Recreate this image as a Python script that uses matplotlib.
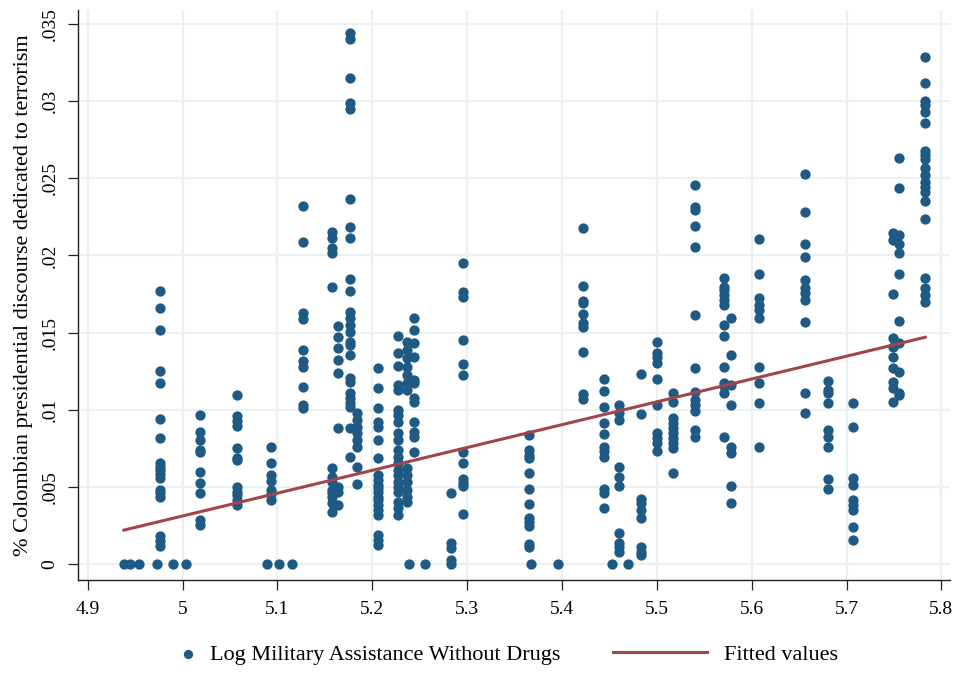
"""
Scatter of terrorism share of Colombian presidential discourse against
log military assistance (without drugs), with a linear fit.
"""

import matplotlib
matplotlib.use("Agg")
import matplotlib.pyplot as plt

# Observations that sit on zero
zero_x = [4.938, 4.945, 4.954, 4.973, 4.990, 5.003, 5.089, 5.102, 5.115,
          5.239, 5.255, 5.283, 5.367, 5.396, 5.453, 5.470]

# Columns of observations: one x value, several y values each
col_x = [4.976, 5.018, 5.057, 5.093, 5.127, 5.157, 5.164, 5.176, 5.184,
         5.206, 5.227, 5.237, 5.244, 5.283, 5.296, 5.365, 5.422, 5.444,
         5.460, 5.483, 5.500, 5.517, 5.540, 5.571, 5.578, 5.608, 5.656,
         5.680, 5.707, 5.749, 5.755, 5.783]
col_y = [
    [0.01771, 0.01659, 0.01516, 0.01251, 0.01173, 0.0094, 0.00816, 0.00654, 0.00628,
     0.00609, 0.00583, 0.00557, 0.0048, 0.0046, 0.00434, 0.00181, 0.00149, 0.00117],
    [0.00966, 0.00855, 0.00804, 0.00739, 0.00726, 0.00596, 0.00525, 0.0046, 0.00285, 0.00253],
    [0.01095, 0.00959, 0.00927, 0.00894, 0.00752, 0.00687, 0.00674, 0.00499, 0.00467,
     0.00447, 0.00415, 0.00382],
    [0.00758, 0.00654, 0.00577, 0.00538, 0.0048, 0.00454, 0.00415],
    [0.0232, 0.02087, 0.01626, 0.01588, 0.01387, 0.01315, 0.01277, 0.01147, 0.0103, 0.01011],
    [0.02151, 0.02113, 0.02048, 0.02015, 0.01795, 0.00622, 0.00564, 0.00531, 0.0048,
     0.0046, 0.00434, 0.00395, 0.00337],
    [0.01542, 0.01471, 0.014, 0.01322, 0.01238, 0.00881, 0.00499, 0.00467, 0.00382],
    [0.0344, 0.034, 0.0315, 0.0299, 0.0295, 0.02365, 0.02184, 0.02113, 0.01847, 0.01769,
     0.01633, 0.01594, 0.01549, 0.01503, 0.01439, 0.01419, 0.01354, 0.01205, 0.01179,
     0.01108, 0.01076, 0.01043, 0.01017, 0.00881, 0.00693],
    [0.00978, 0.00933, 0.00888, 0.00849, 0.00804, 0.00758, 0.00629, 0.00518],
    [0.0127, 0.0114, 0.01011, 0.0092, 0.00888, 0.00804, 0.00687, 0.00577, 0.00544, 0.00512,
     0.00492, 0.00467, 0.00434, 0.00415, 0.00382, 0.0035, 0.00318, 0.00188, 0.00156, 0.00123],
    [0.01477, 0.01367, 0.01283, 0.0116, 0.01128, 0.00998, 0.00966, 0.0092, 0.00849, 0.00804,
     0.00739, 0.00693, 0.00654, 0.00609, 0.00577, 0.00531, 0.00499, 0.00467, 0.00402,
     0.00363, 0.00318],
    [0.01439, 0.01387, 0.01335, 0.01277, 0.01225, 0.01173, 0.01128, 0.00622, 0.00577,
     0.00531, 0.0048, 0.00434, 0.00402],
    [0.01594, 0.01516, 0.01432, 0.01341, 0.01192, 0.01173, 0.01076, 0.0105, 0.0092,
     0.00855, 0.00823, 0.00726],
    [0.0046, 0.00136, 0.00104, 0.00026],
    [0.0195, 0.01763, 0.0173, 0.01451, 0.01296, 0.01225, 0.00726, 0.00654, 0.00551,
     0.00525, 0.00505, 0.00324],
    [0.00836, 0.00739, 0.00706, 0.00687, 0.0059, 0.00486, 0.00389, 0.00298, 0.00272,
     0.00246, 0.0013, 0.0011],
    [0.02177, 0.01801, 0.01704, 0.01691, 0.0162, 0.01562, 0.01536, 0.01374, 0.01102, 0.01069],
    [0.01199, 0.01121, 0.01017, 0.00914, 0.00842, 0.00758, 0.00732, 0.00693, 0.00486,
     0.0046, 0.00363],
    [0.0103, 0.00978, 0.00933, 0.00629, 0.00564, 0.00505, 0.00201, 0.00136, 0.0011, 0.00078],
    [0.01231, 0.00972, 0.00421, 0.00395, 0.0035, 0.00298, 0.0011, 0.00078, 0.00058],
    [0.01439, 0.01367, 0.01341, 0.01303, 0.01199, 0.0103, 0.00849, 0.00816, 0.00784, 0.00732],
    [0.01108, 0.0105, 0.00946, 0.00914, 0.00881, 0.00849, 0.00816, 0.00784, 0.00752, 0.0059],
    [0.02456, 0.02313, 0.02294, 0.0219, 0.02054, 0.01614, 0.0127, 0.01115, 0.01063,
     0.0103, 0.00991, 0.00868, 0.00823],
    [0.01853, 0.01795, 0.01776, 0.01743, 0.01711, 0.01678, 0.01549, 0.01477, 0.01277,
     0.01173, 0.01153, 0.01108, 0.00823],
    [0.01594, 0.01354, 0.0116, 0.0103, 0.00758, 0.00719, 0.00505, 0.00395],
    [0.02106, 0.01879, 0.01724, 0.01678, 0.01646, 0.01594, 0.01277, 0.01173, 0.01043,
     0.00758],
    [0.02527, 0.02281, 0.02074, 0.01989, 0.0184, 0.01788, 0.01756, 0.01711, 0.01568,
     0.01108, 0.00978],
    [0.01186, 0.01128, 0.01108, 0.01043, 0.00868, 0.00823, 0.00758, 0.00551, 0.00486],
    [0.01043, 0.00888, 0.00557, 0.00512, 0.00415, 0.00382, 0.0035, 0.0024, 0.00156],
    [0.02145, 0.021, 0.0175, 0.01464, 0.01406, 0.01341, 0.0127, 0.01179, 0.0114, 0.0105],
    [0.02631, 0.02437, 0.02132, 0.02074, 0.02015, 0.01879, 0.01575, 0.01432, 0.01244,
     0.01108, 0.01095],
    [0.03285, 0.03117, 0.03, 0.02974, 0.02929, 0.02858, 0.02676, 0.0265, 0.02624, 0.02566,
     0.02521, 0.02475, 0.02443, 0.02411, 0.02352, 0.02236, 0.01853, 0.01788, 0.01743,
     0.01698],
]

# Linear fit, endpoints over the range of x
fit_x = [4.938, 5.783]
fit_y = [0.0022, 0.0147]

x_ticks = [4.9, 5.0, 5.1, 5.2, 5.3, 5.4, 5.5, 5.6, 5.7, 5.8]
x_labels = ["4.9", "5", "5.1", "5.2", "5.3", "5.4", "5.5", "5.6", "5.7", "5.8"]
y_ticks = [0, 0.005, 0.01, 0.015, 0.02, 0.025, 0.03, 0.035]
y_labels = ["0", ".005", ".01", ".015", ".02", ".025", ".03", ".035"]

plt.rcParams["font.family"] = ["Liberation Serif", "DejaVu Serif"]

DOT = "#1f5a84"
FIT = "#a0454b"
GRID = "#e9f1f2"

xs = list(zero_x)
ys = [0.0] * len(zero_x)
for cx, cy in zip(col_x, col_y):
    xs += [cx] * len(cy)
    ys += cy

fig = plt.figure(figsize=(9.6, 6.73), dpi=100)
ax = fig.add_axes([0.081, 0.138, 0.909, 0.847])

pts = ax.scatter(xs, ys, s=55, color=DOT, linewidths=0, zorder=3)
fit_line, = ax.plot(fit_x, fit_y, color=FIT, linewidth=2.2, zorder=4)

ax.set_xlim(4.8894, 5.8095)
ax.set_ylim(-0.00104, 0.0359)
ax.set_xticks(x_ticks)
ax.set_xticklabels(x_labels)
ax.set_yticks(y_ticks)
ax.set_yticklabels(y_labels, rotation=90, va="center")

ax.grid(True, color=GRID, linewidth=1.6, zorder=0)
ax.set_axisbelow(True)
for side in ("top", "right"):
    ax.spines[side].set_visible(False)
for side in ("left", "bottom"):
    ax.spines[side].set_color("#222222")
    ax.spines[side].set_linewidth(1.0)
ax.tick_params(axis="both", length=7, width=0.9, color="#222222", labelsize=14)
ax.tick_params(axis="x", pad=8)
ax.tick_params(axis="y", pad=7)

ax.set_ylabel("% Colombian presidential discourse dedicated to terrorism",
              fontsize=16, labelpad=6)

# Two legend pieces so the dot and the line keep their own handle widths
leg_y = 1 - 655 / 673
fig.legend([pts], ["Log Military Assistance Without Drugs"],
           loc="center left", bbox_to_anchor=(177 / 960, leg_y),
           frameon=False, fontsize=16, handlelength=1.0, handletextpad=0.5,
           borderpad=0, borderaxespad=0, markerscale=0.9, scatterpoints=1)
fig.legend([fit_line], ["Fitted values"],
           loc="center left", bbox_to_anchor=(613 / 960, leg_y),
           frameon=False, fontsize=16, handlelength=4.23, handletextpad=0.77,
           borderpad=0, borderaxespad=0)

fig.savefig("out.png", dpi=100)
